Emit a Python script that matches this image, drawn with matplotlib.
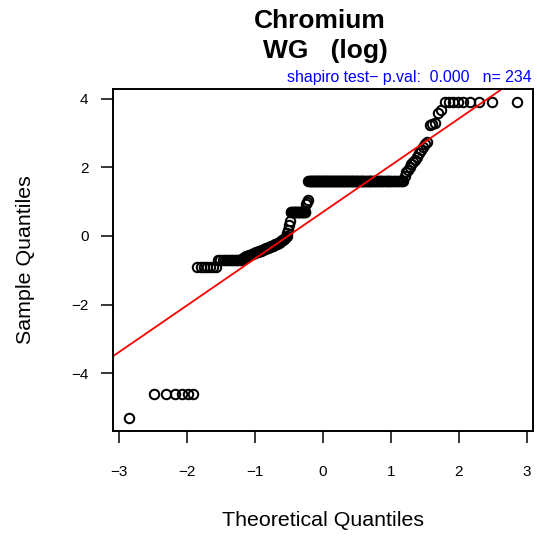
import numpy as np
import matplotlib.pyplot as plt
from statistics import NormalDist

plt.rcParams['font.family'] = ['Liberation Sans', 'DejaVu Sans']

# sample values (log scale), sorted
plateau_levels = [-5.30, -4.61, -0.92, -0.69]
plateau_counts = [1, 6, 7, 13]
ramp_low = [-0.66, -0.64, -0.62, -0.60, -0.58, -0.56, -0.55, -0.53, -0.52, -0.51,
            -0.49, -0.48, -0.46, -0.45, -0.44, -0.43, -0.42, -0.40, -0.39, -0.38,
            -0.36, -0.35, -0.34, -0.33, -0.32, -0.30, -0.29, -0.28, -0.27, -0.25,
            -0.24, -0.23, -0.21, -0.20, -0.18, -0.17, -0.15, -0.13, -0.11, -0.09,
            -0.07, -0.04, -0.01]
ramp_mid = [0.08, 0.18, 0.32, 0.42]
level_mid, count_mid = 0.70, 20
ramp_mid2 = [0.92, 1.00, 1.05]
level_high, count_high = 1.61, 110
ramp_high = [1.75, 1.85, 1.92, 2.00, 2.08, 2.15, 2.22, 2.30, 2.40, 2.50, 2.60, 2.68, 2.74]
ramp_top = [3.22, 3.26, 3.30, 3.58, 3.66]
level_top, count_top = 3.91, 9

parts = [np.repeat(plateau_levels, plateau_counts), ramp_low, ramp_mid,
         [level_mid] * count_mid, ramp_mid2, [level_high] * count_high,
         ramp_high, ramp_top, [level_top] * count_top]
sample = np.sort(np.concatenate([np.asarray(p, float) for p in parts]))
n = len(sample)

# theoretical quantiles like R's qqnorm (ppoints)
theo = np.array([NormalDist().inv_cdf((i - 0.5) / n) for i in range(1, n + 1)])

# qqline through the quartiles
q1, q3 = np.percentile(sample, [25, 75])
z1, z3 = NormalDist().inv_cdf(0.25), NormalDist().inv_cdf(0.75)
slope = (q3 - q1) / (z3 - z1)
intercept = q1 - slope * z1

W, H = 537, 536
fig = plt.figure(figsize=(W / 100, H / 100), dpi=100)
ax = fig.add_axes([113 / W, 1 - 430.5 / H, (532.5 - 113) / W, (430.5 - 89) / H])

ax.plot(theo, sample, 'o', ms=6.8, mfc='none', mec='black', mew=1.45)
ax.axline((0, intercept), slope=slope, color='red', lw=1.3)

xr = theo.max() - theo.min()
yr = sample.max() - sample.min()
ax.set_xlim(theo.min() - 0.04 * xr, theo.max() + 0.04 * xr)
ax.set_ylim(sample.min() - 0.04 * yr, sample.max() + 0.04 * yr)
ax.set_xticks([-3, -2, -1, 0, 1, 2, 3])
ax.set_yticks([-4, -2, 0, 2, 4])
ax.set_xticklabels(['\u22123', '\u22122', '\u22121', '0', '1', '2', '3'])
ax.set_yticklabels(['\u22124', '\u22122', '0', '2', '4'])
ax.tick_params(axis='both', length=8.6, width=1.1, labelsize=11)
ax.tick_params(axis='x', pad=16)
ax.tick_params(axis='y', pad=9)
for s in ax.spines.values():
    s.set_linewidth(1.4)

fig.text(320 / W, 1 - 28.3 / H, 'Chromium', ha='center', va='baseline',
         fontsize=19, fontweight='bold')
fig.text(325 / W, 1 - 58.3 / H, 'WG   (log)', ha='center', va='baseline',
         fontsize=19, fontweight='bold')
fig.text(532 / W, 1 - 81.7 / H, 'shapiro test\u2212 p.val:  0.000   n= 234',
         ha='right', va='baseline', fontsize=11.4, color='blue')
fig.text(323 / W, 1 - 526 / H, 'Theoretical Quantiles', ha='center',
         va='baseline', fontsize=15.4)
fig.text(26 / W, 1 - 260 / H, 'Sample Quantiles', ha='center', va='center',
         rotation=90, fontsize=15.4)

fig.savefig('out.png', dpi=100)
